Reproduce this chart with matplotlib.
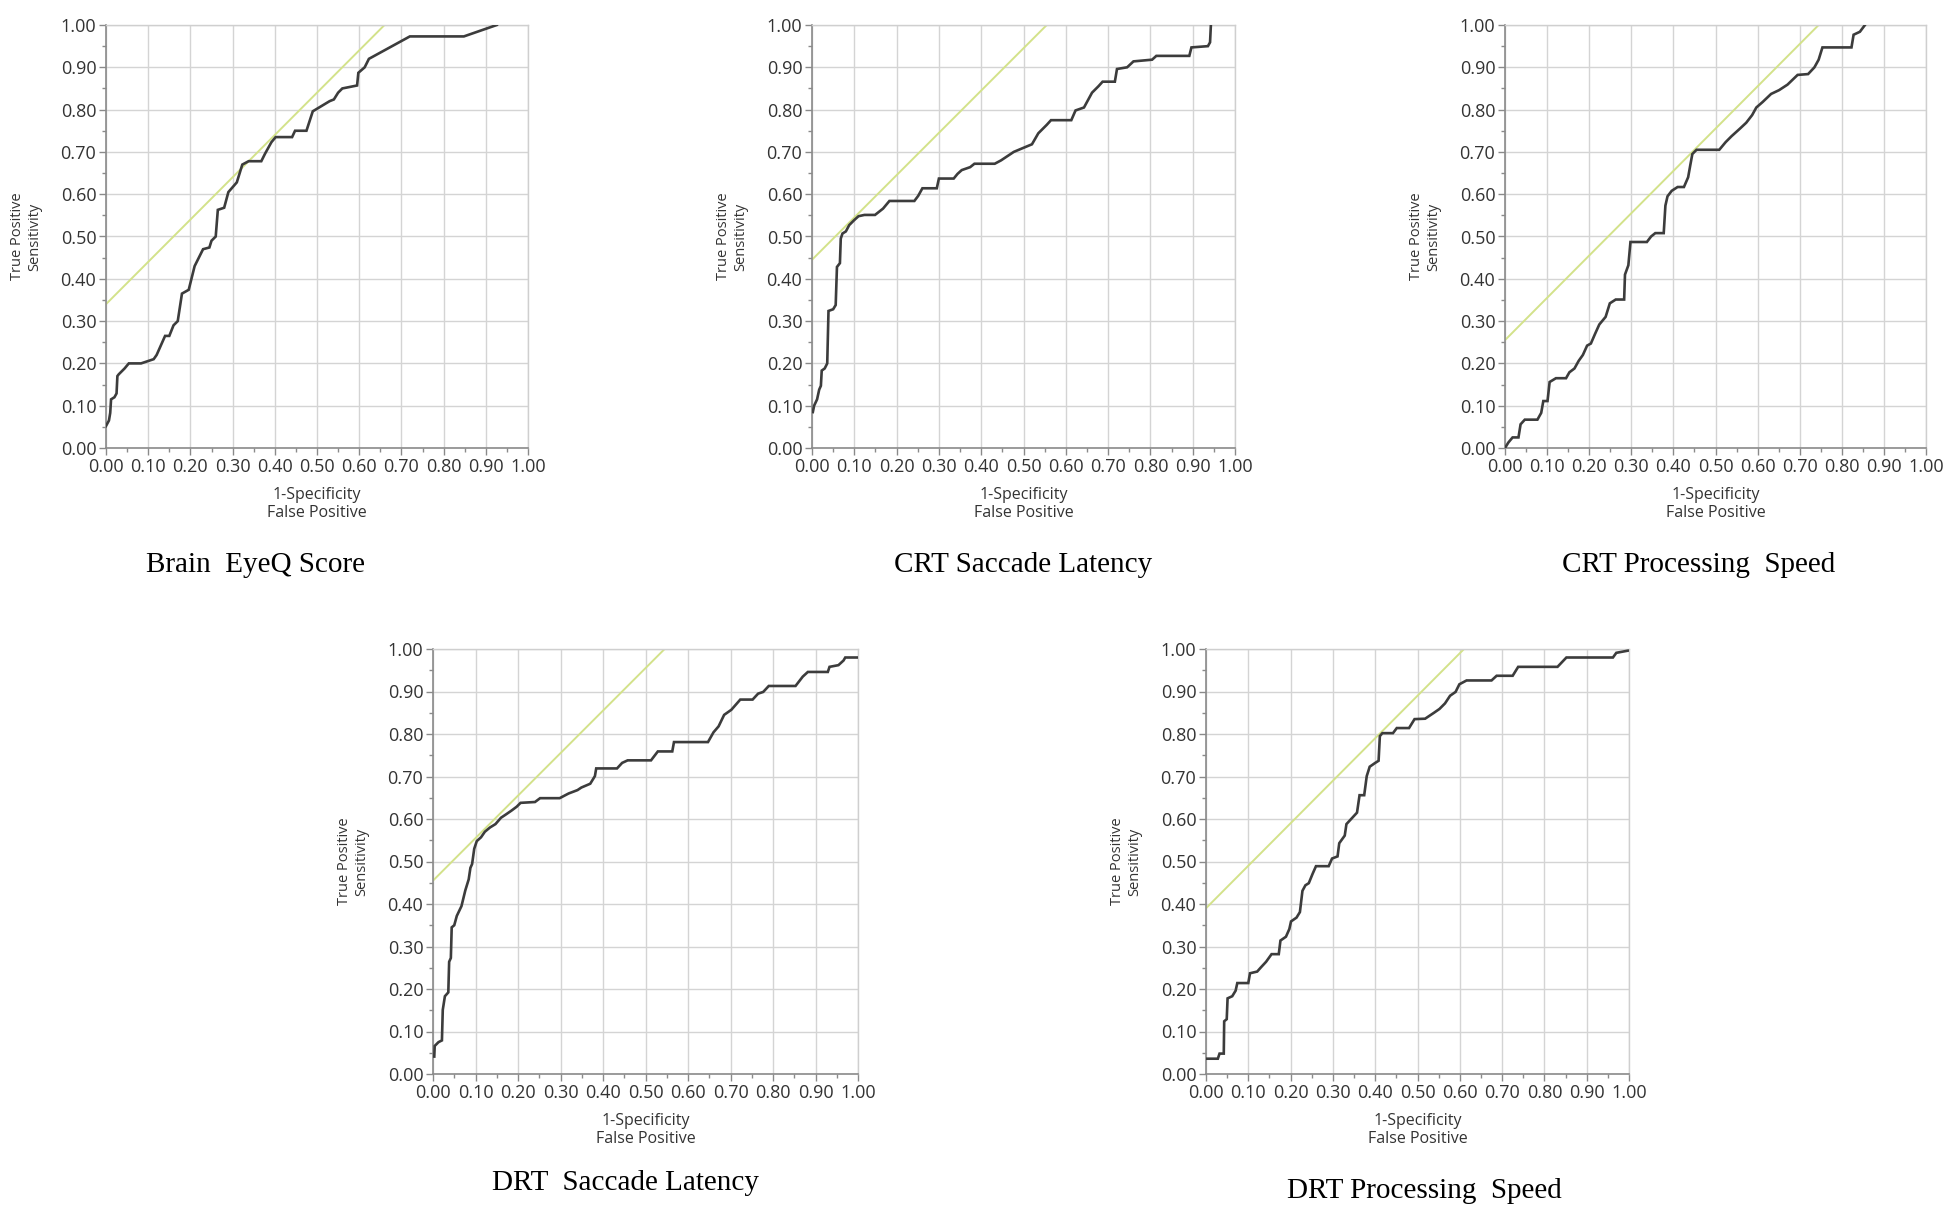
import numpy as np
import matplotlib
matplotlib.use("Agg")
import matplotlib.pyplot as plt
from matplotlib.ticker import MultipleLocator, FormatStrFormatter

# --- ROC curves (1-specificity, sensitivity) ---
eyeq_fpr = [0.0, 0.007, 0.01, 0.012, 0.02, 0.025, 0.027, 0.03, 0.044, 0.054, 0.083, 0.113, 0.12,
            0.14, 0.15, 0.16, 0.17, 0.18, 0.196, 0.21, 0.23, 0.245, 0.25, 0.26, 0.265, 0.28, 0.29,
            0.31, 0.323, 0.338, 0.368, 0.377, 0.392, 0.402, 0.441, 0.448, 0.475, 0.49, 0.505, 0.53,
            0.54, 0.55, 0.56, 0.595, 0.598, 0.613, 0.623, 0.72, 0.848, 0.926]
eyeq_tpr = [0.052, 0.065, 0.083, 0.115, 0.12, 0.129, 0.17, 0.174, 0.188, 0.20, 0.20, 0.21, 0.22,
            0.265, 0.265, 0.29, 0.30, 0.365, 0.374, 0.43, 0.47, 0.474, 0.49, 0.50, 0.563, 0.568, 0.605,
            0.628, 0.67, 0.678, 0.678, 0.696, 0.723, 0.735, 0.735, 0.75, 0.75, 0.796, 0.805, 0.82,
            0.824, 0.84, 0.85, 0.857, 0.887, 0.90, 0.92, 0.973, 0.973, 1.0]

crt_lat_fpr = [0.002, 0.005, 0.012, 0.017, 0.021, 0.023, 0.03, 0.036, 0.039, 0.05, 0.056, 0.059,
               0.066, 0.068, 0.072, 0.08, 0.088, 0.10, 0.11, 0.124, 0.149, 0.168, 0.183, 0.242, 0.251,
               0.261, 0.295, 0.30, 0.335, 0.344, 0.354, 0.374, 0.384, 0.432, 0.447, 0.462, 0.477,
               0.496, 0.52, 0.535, 0.555, 0.565, 0.613, 0.623, 0.643, 0.662, 0.677, 0.687, 0.716,
               0.721, 0.745, 0.76, 0.804, 0.814, 0.892, 0.897, 0.936, 0.941, 0.943]
crt_lat_tpr = [0.085, 0.10, 0.115, 0.138, 0.147, 0.183, 0.188, 0.20, 0.324, 0.328, 0.338, 0.428,
               0.437, 0.495, 0.507, 0.512, 0.527, 0.539, 0.548, 0.551, 0.551, 0.566, 0.584, 0.584, 0.596,
               0.614, 0.614, 0.637, 0.637, 0.648, 0.657, 0.664, 0.672, 0.672, 0.68, 0.69, 0.70,
               0.708, 0.718, 0.744, 0.764, 0.775, 0.775, 0.798, 0.805, 0.84, 0.855, 0.866, 0.866,
               0.896, 0.90, 0.914, 0.918, 0.927, 0.927, 0.947, 0.95, 0.959, 1.0]

crt_ps_fpr = [0.0, 0.008, 0.018, 0.032, 0.037, 0.047, 0.077, 0.086, 0.091, 0.101, 0.106, 0.121, 0.145,
              0.153, 0.165, 0.175, 0.185, 0.195, 0.204, 0.214, 0.224, 0.239, 0.249, 0.263, 0.283,
              0.285, 0.293, 0.298, 0.337, 0.347, 0.357, 0.377, 0.381, 0.386, 0.396, 0.41, 0.425,
              0.435, 0.44, 0.445, 0.455, 0.509, 0.524, 0.538, 0.558, 0.573, 0.587, 0.597, 0.612,
              0.632, 0.651, 0.671, 0.695, 0.72, 0.735, 0.745, 0.754, 0.823, 0.828, 0.843, 0.855]
crt_ps_tpr = [0.0, 0.013, 0.025, 0.025, 0.056, 0.067, 0.067, 0.083, 0.111, 0.111, 0.156, 0.165, 0.165,
              0.179, 0.188, 0.206, 0.22, 0.242, 0.247, 0.27, 0.292, 0.31, 0.342, 0.351, 0.351,
              0.41, 0.432, 0.487, 0.487, 0.50, 0.508, 0.508, 0.573, 0.595, 0.608, 0.617, 0.617,
              0.64, 0.668, 0.695, 0.705, 0.705, 0.723, 0.737, 0.755, 0.769, 0.787, 0.805, 0.818,
              0.837, 0.846, 0.859, 0.882, 0.884, 0.90, 0.918, 0.947, 0.947, 0.977, 0.984, 1.0]

drt_lat_fpr = [0.003, 0.004, 0.013, 0.021, 0.023, 0.028, 0.036, 0.038, 0.042, 0.044, 0.05, 0.056,
               0.067, 0.076, 0.084, 0.088, 0.092, 0.097, 0.103, 0.113, 0.122, 0.134, 0.147, 0.16,
               0.172, 0.185, 0.197, 0.206, 0.24, 0.252, 0.298, 0.319, 0.34, 0.349, 0.37, 0.381,
               0.384, 0.433, 0.445, 0.458, 0.513, 0.529, 0.563, 0.567, 0.647, 0.66, 0.672, 0.685,
               0.702, 0.723, 0.752, 0.765, 0.777, 0.79, 0.853, 0.87, 0.882, 0.929, 0.933, 0.954,
               0.966, 0.97, 0.998]
drt_lat_tpr = [0.041, 0.066, 0.075, 0.079, 0.151, 0.183, 0.192, 0.264, 0.273, 0.345, 0.35, 0.372,
               0.395, 0.432, 0.458, 0.485, 0.494, 0.53, 0.548, 0.557, 0.57, 0.58, 0.588, 0.603,
               0.611, 0.62, 0.629, 0.638, 0.64, 0.649, 0.649, 0.66, 0.668, 0.674, 0.683, 0.701,
               0.719, 0.719, 0.732, 0.738, 0.738, 0.759, 0.759, 0.781, 0.781, 0.804, 0.818, 0.845,
               0.857, 0.881, 0.881, 0.895, 0.899, 0.913, 0.913, 0.935, 0.946, 0.946, 0.958, 0.962,
               0.973, 0.98, 0.98]

drt_ps_fpr = [0.002, 0.028, 0.032, 0.042, 0.043, 0.049, 0.051, 0.062, 0.07, 0.074, 0.10, 0.104, 0.121,
              0.129, 0.142, 0.155, 0.172, 0.176, 0.189, 0.197, 0.201, 0.214, 0.222, 0.228, 0.235,
              0.243, 0.252, 0.26, 0.29, 0.298, 0.311, 0.315, 0.328, 0.332, 0.345, 0.357, 0.363,
              0.374, 0.38, 0.387, 0.40, 0.408, 0.411, 0.417, 0.442, 0.451, 0.48, 0.493, 0.518,
              0.539, 0.552, 0.565, 0.577, 0.59, 0.599, 0.616, 0.675, 0.687, 0.725, 0.738, 0.831,
              0.852, 0.962, 0.97, 0.997]
drt_ps_tpr = [0.036, 0.036, 0.048, 0.048, 0.124, 0.129, 0.178, 0.183, 0.196, 0.214, 0.214, 0.237, 0.241,
              0.25, 0.264, 0.282, 0.282, 0.314, 0.323, 0.341, 0.359, 0.368, 0.381, 0.431, 0.444,
              0.449, 0.471, 0.489, 0.489, 0.507, 0.512, 0.543, 0.561, 0.588, 0.602, 0.615, 0.656,
              0.656, 0.701, 0.723, 0.732, 0.737, 0.795, 0.802, 0.802, 0.814, 0.814, 0.835, 0.836,
              0.85, 0.859, 0.872, 0.89, 0.899, 0.917, 0.926, 0.926, 0.937, 0.937, 0.958, 0.958,
              0.98, 0.98, 0.991, 0.996]

# intercept of the slope-1 tangent line drawn on each panel
tangent_b = [0.34, 0.445, 0.255, 0.455, 0.39]

titles = ["Brain  EyeQ Score", "CRT Saccade Latency", "CRT Processing  Speed",
          "DRT  Saccade Latency", "DRT Processing  Speed"]
curves = [(eyeq_fpr, eyeq_tpr), (crt_lat_fpr, crt_lat_tpr), (crt_ps_fpr, crt_ps_tpr),
          (drt_lat_fpr, drt_lat_tpr), (drt_ps_fpr, drt_ps_tpr)]

# axes boxes in pixels: left, right, top, bottom ; title centre
W, H = 1950, 1222
boxes = [(106, 528, 25, 448), (812, 1235, 25, 448), (1505, 1926, 25, 448),
         (433, 858, 649, 1074), (1206, 1629, 649, 1074)]
title_pos = [(255, 572), (1023, 572), (1699, 572), (626, 1190), (1424, 1198)]

plt.rcParams['font.family'] = ['Open Sans', 'DejaVu Sans']

fig = plt.figure(figsize=(W / 100, H / 100), dpi=100)
fig.patch.set_facecolor('white')

for i in range(5):
    l, r, t, b = boxes[i]
    ax = fig.add_axes([l / W, 1 - b / H, (r - l) / W, (b - t) / H])
    fpr, tpr = curves[i]

    xs = np.array([0.0, 1.0])
    ax.plot(xs, xs + tangent_b[i], color='#d3e28a', lw=1.4, zorder=2)
    ax.plot(fpr, tpr, color='#3c3c3c', lw=1.9, zorder=3, solid_joinstyle='miter')

    ax.set_xlim(0, 1)
    ax.set_ylim(0, 1)
    ax.xaxis.set_major_locator(MultipleLocator(0.1))
    ax.yaxis.set_major_locator(MultipleLocator(0.1))
    ax.xaxis.set_minor_locator(MultipleLocator(0.05))
    ax.yaxis.set_minor_locator(MultipleLocator(0.05))
    ax.xaxis.set_major_formatter(FormatStrFormatter('%.2f'))
    ax.yaxis.set_major_formatter(FormatStrFormatter('%.2f'))
    ax.grid(True, which='major', color='#d4d4d4', lw=1.0, zorder=0)
    ax.set_axisbelow(True)

    ax.tick_params(which='major', length=5, width=1, color='#8a8a8a',
                   labelsize=13, labelcolor='#333333', pad=2)
    ax.tick_params(which='minor', length=3, width=1, color='#8a8a8a')

    for side in ['left', 'bottom']:
        ax.spines[side].set_color('#8a8a8a')
        ax.spines[side].set_linewidth(1.2)
    for side in ['top', 'right']:
        ax.spines[side].set_color('#cfcfcf')
        ax.spines[side].set_linewidth(1.0)

    ax.set_xlabel("1-Specificity\nFalse Positive", fontsize=11.5, color='#333333',
                  linespacing=1.2, labelpad=8)
    ax.set_ylabel("True Positive\nSensitivity", fontsize=10.5, color='#333333',
                  linespacing=1.2, labelpad=13)

    tx, ty = title_pos[i]
    fig.text(tx / W, 1 - ty / H, titles[i], ha='center', va='baseline',
             fontsize=21, family='Liberation Serif', color='black')

fig.savefig("out.png", dpi=100, facecolor='white')
